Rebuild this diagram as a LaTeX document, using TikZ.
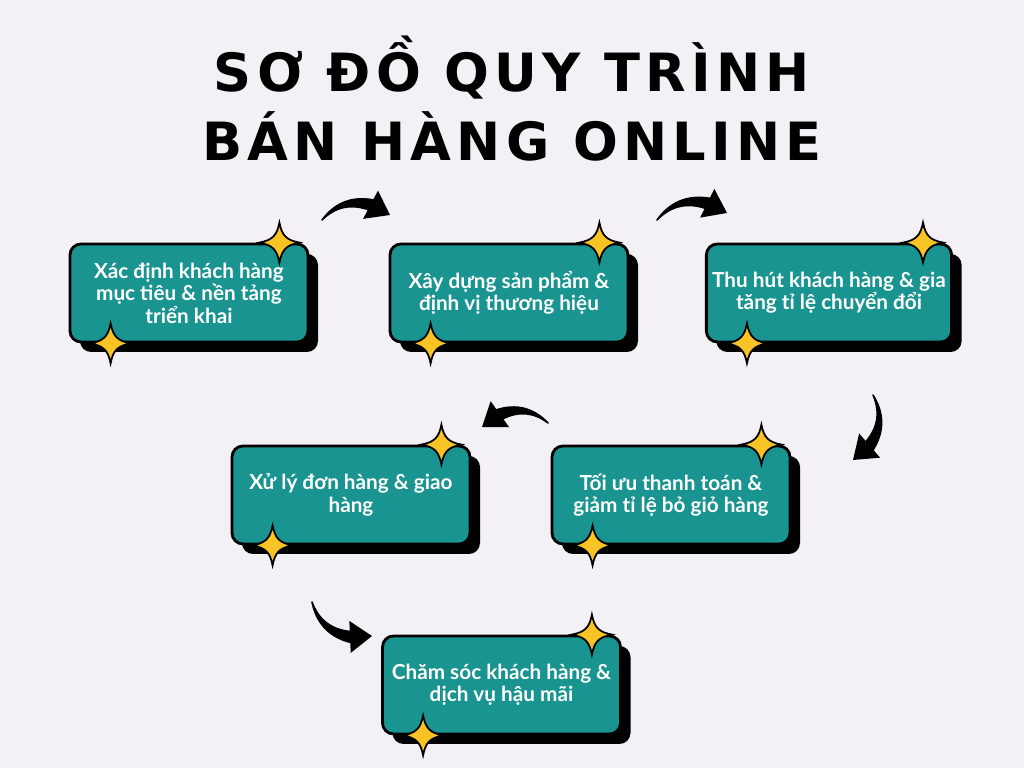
\documentclass[tikz,border=0pt]{standalone}
\usepackage{fontspec}
\setmainfont{Lato}
\newfontfamily\titlefont[LetterSpace=10]{DejaVu Sans}
\usetikzlibrary{arrows.meta,positioning,shadows,calc}
\definecolor{bgpaper}{HTML}{F3F1F6}
\definecolor{tealbox}{HTML}{199490}
\definecolor{staryellow}{HTML}{F7C325}

% tapered curved arrow: start, end, bend side, back side, end tangent angle
\newcommand{\bentarrow}[5]{%
	\coordinate (headbase) at ($(#2)!0.44cm!#5:(#1)$);
	\filldraw[line width=0.9pt, line join=round] (#1) to [bend #3=32] ($(headbase)!0.11cm!90:(#2)$) -- ($(headbase)!0.11cm!-90:(#2)$) to [bend #4=32] (#1) -- cycle;
	\fill (#2) -- ($(headbase)!0.32cm!90:(#2)$) -- ($(headbase)!0.32cm!-90:(#2)$) -- cycle;}

\begin{document}
\begin{tikzpicture}
	\tikzset{recstyle/.style={rectangle, draw=black, line width=1.6pt, fill=tealbox, minimum width=4.76cm, minimum height=1.96cm, rounded corners=.22cm, text=white, align=center, font=\fontsize{11.8}{12.8}\selectfont\bfseries, drop shadow={shadow xshift=0.2cm, shadow yshift=-0.2cm, opacity=1, fill=black}},
		titlestyle/.style={font=\titlefont\fontsize{30}{33}\selectfont\bfseries},
		sparkle/.pic={\filldraw[fill=staryellow, draw=black, line width=1pt] (0,0.4) .. controls (0.05,0.14) and (0.14,0.05) .. (0.4,0) .. controls (0.14,-0.05) and (0.05,-0.14) .. (0,-0.4) .. controls (-0.05,-0.14) and (-0.14,-0.05) .. (-0.4,0) .. controls (-0.14,0.05) and (-0.05,0.14) .. cycle;}}

	\fill[bgpaper] (0,0) rectangle (20.48,15.36);
	\useasboundingbox (0,0) rectangle (20.48,15.36);

	% title
	\node[titlestyle] (titletop) at (10.24,14.00) {SƠ ĐỒ QUY TRÌNH};
	\node[titlestyle] (titlebottom) at (10.24,12.64) {BÁN HÀNG ONLINE};

	% steps
	\node[recstyle] (rectcustomer) at (3.78,9.50) {Xác định khách hàng\\mục tiêu \& nền tảng\\triển khai};
	\node[recstyle] (rectproduct) at (10.18,9.50) {Xây dựng sản phẩm \&\\định vị thương hiệu};
	\node[recstyle] (rectattract) at (16.58,9.50) {Thu hút khách hàng \& gia\\tăng tỉ lệ chuyển đổi};
	\node[recstyle] (rectpayment) at (13.42,5.46) {Tối ưu thanh toán \&\\giảm tỉ lệ bỏ giỏ hàng};
	\node[recstyle] (rectorder) at (7.02,5.46) {Xử lý đơn hàng \& giao\\hàng};
	\node[recstyle] (rectcare) at (10.03,1.66) {Chăm sóc khách hàng \&\\dịch vụ hậu mãi};

	% sparkles
	\foreach \stepname in {rectcustomer,rectproduct,rectattract,rectpayment,rectorder,rectcare}{
		\pic at ([xshift=-0.6cm]\stepname.north east) {sparkle};
		\pic at ([xshift=0.84cm]\stepname.south west) {sparkle};
	}

	% arrows
	\coordinate (arrowonestart) at (6.44,10.96);
	\coordinate (arrowoneend) at (7.80,11.06);
	\coordinate (arrowtwostart) at (13.14,10.96);
	\coordinate (arrowtwoend) at (14.54,11.10);
	\coordinate (arrowthreestart) at (17.46,7.46);
	\coordinate (arrowthreeend) at (17.06,6.16);
	\coordinate (arrowfourstart) at (10.96,6.90);
	\coordinate (arrowfourend) at (9.64,6.82);
	\coordinate (arrowfivestart) at (6.24,3.32);
	\coordinate (arrowfiveend) at (7.44,2.64);

	\bentarrow{arrowonestart}{arrowoneend}{left}{right}{-32}
	\bentarrow{arrowtwostart}{arrowtwoend}{left}{right}{-32}
	\bentarrow{arrowthreestart}{arrowthreeend}{left}{right}{-32}
	\bentarrow{arrowfourstart}{arrowfourend}{right}{left}{32}
	\bentarrow{arrowfivestart}{arrowfiveend}{right}{left}{32}

\end{tikzpicture}
\end{document}
